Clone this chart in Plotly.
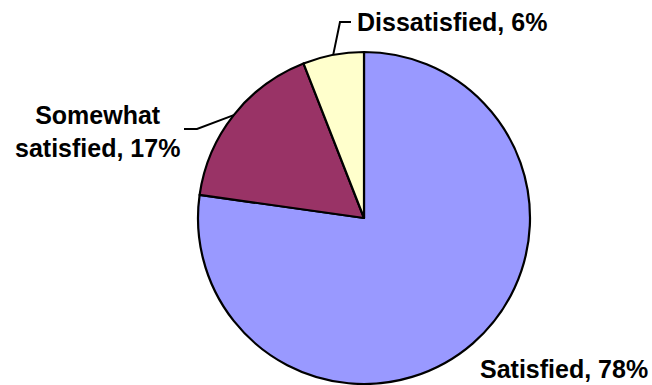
import math
import plotly.graph_objects as go

# Survey responses
categories = ["Satisfied", "Somewhat satisfied", "Dissatisfied"]
percents = [78, 17, 6]
label_texts = ["Satisfied, 78%", "Somewhat<br>satisfied, 17%", "Dissatisfied, 6%"]
colors = ["#9999FF", "#993366", "#FFFFCC"]

W, H = 652, 385
CX, CY, R = 364, 218, 166  # pie centre and radius in pixels


def px(x):
    return x / W


def py(y):
    return 1 - y / H


fig = go.Figure(
    go.Pie(
        labels=categories,
        values=percents,
        sort=False,
        direction="clockwise",
        rotation=0,
        textinfo="none",
        hoverinfo="label+value",
        marker=dict(colors=colors, line=dict(color="black", width=2.2)),
        domain=dict(x=[px(CX - R), px(CX + R)], y=[py(CY + R), py(CY - R)]),
        showlegend=False,
    )
)

# mid-angle of each slice (clockwise from 12 o'clock)
total = sum(percents)
mids = []
acc = 0
for v in percents:
    mids.append((acc + v / 2) / total * 2 * math.pi)
    acc += v


def rim(i):
    a = mids[i]
    return CX + R * math.sin(a), CY - R * math.cos(a)


font = dict(family="Liberation Sans, Arial, sans-serif", size=25, color="black")

# label placement: (x, y, xanchor) in pixels, plus optional elbow leader
placements = [
    (564, 369, "center", None),
    (97, 131, "center", [(197, 129), (184, 129)]),
    (355, 22, "left", [(340, 22), (351, 22)]),
]

shapes = []
annotations = []
for i, (lx, ly, xa, elbow) in enumerate(placements):
    annotations.append(
        dict(
            x=px(lx), y=py(ly), xref="paper", yref="paper",
            text="<b>" + label_texts[i] + "</b>",
            showarrow=False, xanchor=xa, yanchor="middle",
            align="center", font=font,
        )
    )
    if elbow:
        pts = [rim(i)] + elbow
        path = "M " + " L ".join(f"{px(x)},{py(y)}" for x, y in pts)
        shapes.append(
            dict(type="path", xref="paper", yref="paper", path=path,
                 line=dict(color="black", width=2))
        )

fig.update_layout(
    width=W, height=H,
    margin=dict(l=0, r=0, t=0, b=0),
    paper_bgcolor="white", plot_bgcolor="white",
    annotations=annotations, shapes=shapes,
)

fig.write_html("out.html")
